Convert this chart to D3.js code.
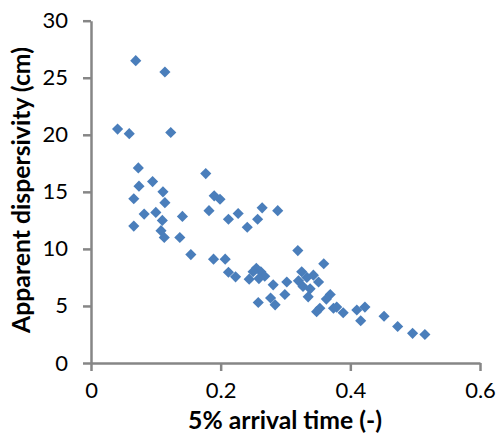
<!DOCTYPE html>
<html>
<head>
<meta charset="utf-8">
<script src="https://cdn.jsdelivr.net/npm/d3@7"></script>
<style>
  html, body { margin: 0; padding: 0; background: #fff; }
  svg { display: block; }
</style>
</head>
<body>
<svg id="chart" width="498" height="447"></svg>
<script>
const arrivalTime = [
  0.041, 0.059, 0.069, 0.114, 0.123, 0.073, 0.074, 0.095, 0.111, 0.066,
  0.114, 0.082, 0.100, 0.110, 0.141, 0.066, 0.108, 0.113, 0.137, 0.154,
  0.177, 0.190, 0.199, 0.182, 0.212, 0.227, 0.241, 0.257, 0.264, 0.288,
  0.189, 0.207, 0.212, 0.223, 0.244, 0.255, 0.262, 0.250, 0.268, 0.259,
  0.281, 0.302, 0.299, 0.258, 0.277, 0.284, 0.319, 0.359, 0.325, 0.343,
  0.351, 0.327, 0.338, 0.320, 0.335, 0.369, 0.353, 0.374, 0.348, 0.363,
  0.379, 0.389, 0.410, 0.4225, 0.416, 0.452, 0.473, 0.496, 0.515, 0.333
];
const dispersivity = [
  20.5, 20.1, 26.5, 25.5, 20.2, 17.1, 15.5, 15.9, 15.0, 14.4,
  14.05, 13.05, 13.2, 12.5, 12.85, 12.0, 11.6, 11.0, 11.0, 9.5,
  16.6, 14.65, 14.35, 13.35, 12.6, 13.1, 11.9, 12.6, 13.6, 13.35,
  9.1, 9.1, 7.95, 7.55, 7.35, 8.3, 8.0, 8.0, 7.6, 7.4,
  6.85, 7.1, 6.0, 5.3, 5.7, 5.1, 9.85, 8.7, 8.0, 7.7,
  7.1, 6.7, 6.5, 7.2, 5.8, 6.0, 4.8, 4.8, 4.5, 5.6,
  4.9, 4.4, 4.65, 4.9, 3.7, 4.1, 3.2, 2.6, 2.5, 7.5
];
const xTicks = [0, 0.2, 0.4, 0.6];
const yTicks = [0, 5, 10, 15, 20, 25, 30];
const xTitle = "5% arrival time (-)";
const yTitle = "Apparent dispersivity (cm)";

(function () {
  const svg = d3.select("#chart");
  const mLeft = 91, mRight = 480, mTop = 20.7, mBottom = 363;
  const x = d3.scaleLinear().domain([0, 0.6]).range([mLeft, mRight]);
  const y = d3.scaleLinear().domain([0, 30]).range([mBottom, mTop]);
  const axisColor = "#868686";
  const font = "Lato, 'Open Sans', sans-serif";

  const xAxis = svg.append("g")
    .attr("transform", `translate(0,${mBottom})`)
    .call(d3.axisBottom(x).tickValues(xTicks).tickFormat(d => d === 0 ? "0" : d3.format(".1f")(d)).tickSizeInner(8).tickSizeOuter(0).tickPadding(11));
  const yAxis = svg.append("g")
    .attr("transform", `translate(${mLeft},0)`)
    .call(d3.axisLeft(y).tickValues(yTicks).tickFormat(d3.format("d")).tickSizeInner(8).tickSizeOuter(0).tickPadding(15));

  [xAxis, yAxis].forEach(g => {
    g.select(".domain").attr("stroke", axisColor).attr("stroke-width", 2.5);
    g.selectAll(".tick line").attr("stroke", axisColor).attr("stroke-width", 2.5);
    g.selectAll(".tick text").attr("fill", "#000").style("font-family", font).style("font-size", "22px");
  });

  svg.append("g").selectAll("path")
    .data(arrivalTime.map((t, i) => [t, dispersivity[i]]))
    .join("path")
    .attr("transform", d => `translate(${x(d[0])},${y(d[1])}) rotate(45)`)
    .attr("d", d3.symbol().type(d3.symbolSquare).size(62))
    .attr("fill", "#4A7EBB");

  function fit(sel, target, base) {
    sel.style("font-size", base + "px");
    const w = sel.node().getComputedTextLength();
    if (w > 0) sel.style("font-size", (base * target / w).toFixed(2) + "px");
  }

  const xt = svg.append("text")
    .attr("x", 285)
    .attr("y", 429)
    .attr("text-anchor", "middle")
    .style("font-family", font)
    .style("font-weight", "bold")
    .text(xTitle);
  fit(xt, 194, 20);

  const yt = svg.append("text")
    .attr("transform", `translate(30,190) rotate(-90)`)
    .attr("text-anchor", "middle")
    .style("font-family", font)
    .style("font-weight", "bold")
    .text(yTitle);
  fit(yt, 286, 20);
})();
</script>
</body>
</html>
